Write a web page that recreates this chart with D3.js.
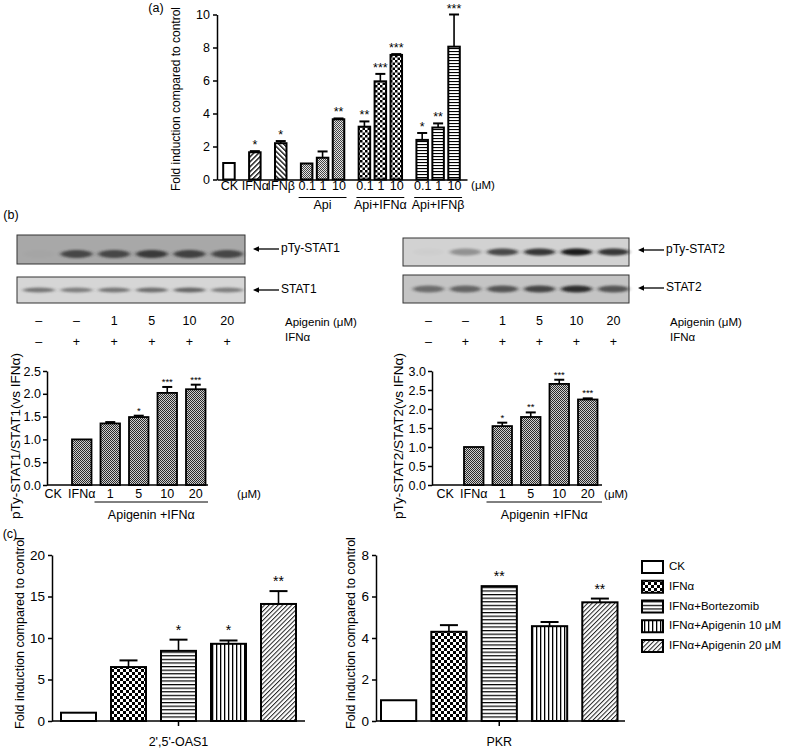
<!DOCTYPE html>
<html>
<head>
<meta charset="utf-8">
<script src="https://cdn.jsdelivr.net/npm/d3@7"></script>
<style>
    body { margin: 0; background: #fff; }
    svg  { display: block; }
</style>
</head>
<body>
<div id="chart"></div>
<script>
'use strict';

// ------------ DATA ---------------- //

// panel (a) : fold induction, 12 bars
const A_LABELS = ['CK', 'IFNα', 'IFNβ', '0.1', '1', '10', '0.1', '1', '10', '0.1', '1', '10'];
const A_GROUPS = ['CK', 'IFNα', 'IFNβ', 'Api', 'Api', 'Api', 'Api+IFNα', 'Api+IFNα', 'Api+IFNα', 'Api+IFNβ', 'Api+IFNβ', 'Api+IFNβ'];
const A_MEAN   = [1.0, 1.65, 2.2, 0.97, 1.32, 3.65, 3.2, 5.95, 7.55, 2.4, 3.15, 8.05];
const A_ERR    = [0, 0.07, 0.13, 0, 0.38, 0.05, 0.32, 0.45, 0.05, 0.42, 0.25, 1.95];
const A_SIG    = ['', '*', '*', '', '', '**', '**', '***', '***', '*', '**', '***'];
const A_TICKS  = [0, 2, 4, 6, 8, 10];

// panel (b) : western blot lanes
const LANE_API    = ['–', '–', '1', '5', '10', '20'];
const LANE_IFN    = ['–', '+', '+', '+', '+', '+'];
const BLOT_PSTAT1 = [0.02, 0.8, 0.8, 0.9, 0.85, 0.8];
const BLOT_STAT1  = [0.6, 0.55, 0.6, 0.65, 0.7, 0.55];
const BLOT_PSTAT2 = [0.02, 0.35, 0.75, 0.85, 1.0, 0.85];
const BLOT_STAT2  = [0.55, 0.6, 0.7, 0.8, 0.95, 0.7];

// panel (b) : quantification
const B_CATS    = ['CK', 'IFNα', '1', '5', '10', '20'];
const B1_MEAN   = [0, 1.0, 1.35, 1.49, 2.02, 2.1];
const B1_ERR    = [0, 0, 0.03, 0.03, 0.13, 0.1];
const B1_SIG    = ['', '', '', '*', '***', '***'];
const B1_TICKS  = [0, 0.5, 1.0, 1.5, 2.0, 2.5];
const B2_MEAN   = [0, 1.0, 1.55, 1.79, 2.66, 2.25];
const B2_ERR    = [0, 0, 0.09, 0.12, 0.11, 0.03];
const B2_SIG    = ['', '', '*', '**', '***', '***'];
const B2_TICKS  = [0, 0.5, 1.0, 1.5, 2.0, 2.5, 3.0];

// panel (c) : OAS1 and PKR
const C_SERIES  = ['CK', 'IFNα', 'IFNα+Bortezomib', 'IFNα+Apigenin 10 μM', 'IFNα+Apigenin 20 μM'];
const OAS1_MEAN = [1.0, 6.5, 8.45, 9.3, 14.1];
const OAS1_ERR  = [0, 0.8, 1.35, 0.4, 1.55];
const OAS1_SIG  = ['', '', '*', '*', '**'];
const OAS1_TICKS = [0, 5, 10, 15, 20];
const PKR_MEAN  = [1.0, 4.3, 6.5, 4.57, 5.72];
const PKR_ERR   = [0, 0.32, 0, 0.2, 0.18];
const PKR_SIG   = ['', '', '**', '', '**'];
const PKR_TICKS = [0, 2, 4, 6, 8];

// ------------ STYLE CONSTANTS ---------------- //

const FONT = '"Liberation Sans", Arial, Helvetica, sans-serif';
const A_FILLS = {
    'CK'       : '#fff',
    'IFNα'     : 'url(#hatchUp)',
    'IFNβ'     : 'url(#hatchDown)',
    'Api'      : 'url(#fineLight)',
    'Api+IFNα' : 'url(#checkSmall)',
    'Api+IFNβ' : 'url(#hlinesA)'
};
const C_FILLS = ['#fff', 'url(#checkBig)', 'url(#hlinesC)', 'url(#vlinesC)', 'url(#diagC)'];

// -------------  UTILS ------------- //

const svg = d3.select('#chart')
    .append('svg')
    .attr('width', 786)
    .attr('height', 749)
    .attr('font-family', FONT);

svg.append('rect').attr('width', 786).attr('height', 749).attr('fill', '#fff');

const defs = svg.append('defs');

const addPattern = (id, w, h, draw, transform) => {
    const p = defs.append('pattern')
        .attr('id', id)
        .attr('patternUnits', 'userSpaceOnUse')
        .attr('width', w)
        .attr('height', h);
    if(transform) p.attr('patternTransform', transform);
    draw(p);
};

const stripes = (w, lineW, bg, fg) => p => {
    p.append('rect').attr('width', w).attr('height', w).attr('fill', bg);
    p.append('rect').attr('width', lineW).attr('height', w).attr('fill', fg);
};

const checker = (cell, bg, fg) => p => {
    p.append('rect').attr('width', cell * 2).attr('height', cell * 2).attr('fill', bg);
    p.append('rect').attr('width', cell).attr('height', cell).attr('fill', fg);
    p.append('rect').attr('x', cell).attr('y', cell).attr('width', cell).attr('height', cell).attr('fill', fg);
};

addPattern('hatchUp', 3.5, 3.5, stripes(3.5, 1.3, '#fff', '#000'), 'rotate(45)');
addPattern('hatchDown', 3.5, 3.5, stripes(3.5, 1.3, '#fff', '#000'), 'rotate(-45)');
addPattern('fineLight', 2, 2, checker(1, '#e4e4e4', '#444'));
addPattern('fineDark', 2, 2, checker(1, '#cfcfcf', '#2a2a2a'));
addPattern('checkSmall', 5, 5, checker(2.5, '#fff', '#000'));
addPattern('checkBig', 6, 6, checker(3, '#fff', '#000'));
addPattern('hlinesA', 3, 3, stripes(3, 1.1, '#fff', '#000'), 'rotate(90)');
addPattern('hlinesC', 3.6, 3.6, stripes(3.6, 1.2, '#fff', '#000'), 'rotate(90)');
addPattern('vlinesC', 4, 4, stripes(4, 1.3, '#fff', '#000'));
addPattern('diagC', 3.2, 3.2, stripes(3.2, 1.0, '#fff', '#222'), 'rotate(45)');

const blur = defs.append('filter').attr('id', 'blur').attr('x', '-30%').attr('y', '-100%').attr('width', '160%').attr('height', '300%');
blur.append('feGaussianBlur').attr('stdDeviation', '2 1.3');

const styleAxis = (g, size) => {
    g.attr('font-family', FONT).attr('font-size', size);
    g.selectAll('path, line').attr('stroke', '#000').attr('stroke-width', 1.5);
    g.selectAll('text').attr('fill', '#000');
    return g;
};

const addText = (x, y, txt, size, opts = {}) => {
    const t = svg.append('text')
        .attr('x', x)
        .attr('y', y)
        .attr('font-size', size)
        .attr('text-anchor', opts.anchor || 'middle')
        .attr('dominant-baseline', opts.baseline || 'middle')
        .text(txt);
    if(opts.rotate) t.attr('transform', `rotate(-90, ${x}, ${y})`);
    return t;
};

const hline = (x1, x2, y, w = 1.2) => svg.append('line')
    .attr('x1', x1).attr('x2', x2).attr('y1', y).attr('y2', y)
    .attr('stroke', '#000').attr('stroke-width', w);

// bars + error bars + stars
const drawBars = (cfg) => {
    const {means, errs, sigs, cx, bw, y, fills, strokeW, capW, starSize, starGap} = cfg;
    const rows = means.map((m, i) => ({i, m, e: errs[i], s: sigs[i], fill: fills[i]}));
    const g    = svg.append('g');

    g.selectAll('rect')
        .data(rows.filter(d => d.m > 0))
        .enter()
            .append('rect')
            .attr('x', d => cx(d.i) - bw / 2)
            .attr('y', d => y(d.m))
            .attr('width', bw)
            .attr('height', d => y(0) - y(d.m))
            .attr('fill', d => d.fill)
            .attr('stroke', '#000')
            .attr('stroke-width', strokeW);

    const withErr = rows.filter(d => d.e > 0);
    g.selectAll('.err')
        .data(withErr)
        .enter()
            .append('line')
            .attr('class', 'err')
            .attr('x1', d => cx(d.i)).attr('x2', d => cx(d.i))
            .attr('y1', d => y(d.m)).attr('y2', d => y(d.m + d.e))
            .attr('stroke', '#000').attr('stroke-width', 1.6);

    g.selectAll('.cap')
        .data(withErr)
        .enter()
            .append('line')
            .attr('class', 'cap')
            .attr('x1', d => cx(d.i) - capW / 2).attr('x2', d => cx(d.i) + capW / 2)
            .attr('y1', d => y(d.m + d.e)).attr('y2', d => y(d.m + d.e))
            .attr('stroke', '#000').attr('stroke-width', 2);

    g.selectAll('.star')
        .data(rows.filter(d => d.s))
        .enter()
            .append('text')
            .attr('class', 'star')
            .attr('x', d => cx(d.i))
            .attr('y', d => y(d.m + d.e) - starGap)
            .attr('text-anchor', 'middle')
            .attr('font-size', starSize)
            .text(d => d.s);
};

// ---------------  PANEL (a) ------------- //

const drawPanelA = () => {
    const groupGap = 26 / 16;
    const slots    = A_GROUPS.reduce((acc, grp, i) => {
        acc.push(i === 0 ? 0 : acc[i - 1] + (grp === A_GROUPS[i - 1] ? 1 : groupGap));
        return acc;
    }, []);
    const x = d3.scaleLinear().domain([-0.75, slots[slots.length - 1] + 0.8125]).range([217, 467]);
    const y = d3.scaleLinear().domain([0, 10]).range([179.5, 14.5]);

    styleAxis(svg.append('g')
        .attr('transform', 'translate(217,0)')
        .call(d3.axisLeft(y).tickValues(A_TICKS).tickSize(4).tickSizeOuter(0).tickPadding(3)), 12.5);

    styleAxis(svg.append('g')
        .attr('transform', 'translate(0,179.5)')
        .call(d3.axisBottom(x).tickValues(slots).tickFormat((d, i) => A_LABELS[i]).tickSize(0).tickSizeOuter(0).tickPadding(2)), 12.5);

    drawBars({
        means: A_MEAN, errs: A_ERR, sigs: A_SIG,
        cx: i => x(slots[i]), bw: 11.5, y,
        fills: A_GROUPS.map(g => A_FILLS[g]),
        strokeW: 2, capW: 10, starSize: 12.5, starGap: 2
    });

    // dose groups: underline + group name
    Array.from(new Set(A_GROUPS))
        .filter(g => A_GROUPS.filter(v => v === g).length > 1)
        .forEach(g => {
            const idx = A_GROUPS.map((v, i) => v === g ? i : -1).filter(i => i >= 0);
            const x1  = x(slots[idx[0]]) - 8;
            const x2  = x(slots[idx[idx.length - 1]]) + 8;
            hline(x1, x2, 197.5, 1.2);
            addText((x1 + x2) / 2, 206, g, 12.5);
        });

    addText(483, 186, '(μM)', 11.5);
    addText(177, 99, 'Fold induction compared to control', 12, {rotate: true});
    addText(156, 9, '(a)', 12.5);
};

// ---------------  PANEL (b) BLOTS ------------- //

const drawBlot = (x0, x1, y0, y1, bg, color, bandY, bandH, lane, values) => {
    const g = svg.append('g');
    g.append('rect')
        .attr('x', x0).attr('y', y0).attr('width', x1 - x0).attr('height', y1 - y0)
        .attr('fill', bg).attr('stroke', '#333').attr('stroke-width', 1);
    g.selectAll('ellipse')
        .data(values)
        .enter()
            .append('ellipse')
            .attr('cx', (d, i) => lane(i) + lane.bandwidth() / 2)
            .attr('cy', bandY)
            .attr('rx', lane.bandwidth() * 0.42)
            .attr('ry', bandH / 2)
            .attr('fill', color)
            .attr('opacity', d => d)
            .attr('filter', 'url(#blur)');
};

const drawBlotLabels = (lane, textX, arrowX, rows) => {
    rows.forEach(([y, txt]) => {
        svg.append('line')
            .attr('x1', arrowX + 4).attr('x2', arrowX + 26).attr('y1', y).attr('y2', y)
            .attr('stroke', '#000').attr('stroke-width', 1.3);
        svg.append('path')
            .attr('d', `M${arrowX},${y} l6,-2.8 l0,5.6 z`)
            .attr('fill', '#000');
        addText(textX, y, txt, 12, {anchor: 'start'});
    });
    const cx = i => lane(i) + lane.bandwidth() / 2;
    LANE_API.forEach((t, i) => addText(cx(i), 322, t, 12.5));
    LANE_IFN.forEach((t, i) => addText(cx(i), 343, t, 12.5));
    addText(textX + 4, 323, 'Apigenin (μM)', 11.5, {anchor: 'start'});
    addText(textX + 4, 338, 'IFNα', 11.5, {anchor: 'start'});
};

const drawPanelBBlots = () => {
    const laneL = d3.scaleBand().domain(d3.range(LANE_API.length)).range([20, 246]);
    drawBlot(17, 245, 235, 264, '#a8a8a8', '#2e2e2e', 254, 8, laneL, BLOT_PSTAT1);
    drawBlot(17, 245, 277, 303, '#d6d6d6', '#3a3a3a', 290, 5, laneL, BLOT_STAT1);
    drawBlotLabels(laneL, 281, 253, [[249, 'pTy-STAT1'], [290, 'STAT1']]);

    const laneR = d3.scaleBand().domain(d3.range(LANE_API.length)).range([410, 632]);
    drawBlot(403, 629, 238, 266, '#d2d2d2', '#1e1e1e', 252, 7, laneR, BLOT_PSTAT2);
    drawBlot(403, 629, 275, 303, '#c4c4c4', '#262626', 289, 7, laneR, BLOT_STAT2);
    drawBlotLabels(laneR, 666, 638, [[250, 'pTy-STAT2'], [288, 'STAT2']]);

    addText(11, 216, '(b)', 12.5);
};

// ---------------  PANEL (b) BARS ------------- //

const drawQuant = (cfg) => {
    const {x0, xStart, xEnd, axisEnd, means, errs, sigs, ticks, top, title, titleX, umX} = cfg;
    const x = d3.scaleBand().domain(B_CATS).range([xStart, xEnd]).paddingInner(0.316);
    const y = d3.scaleLinear().domain([0, ticks[ticks.length - 1]]).range([485, top]);

    styleAxis(svg.append('g')
        .attr('transform', `translate(${x0},0)`)
        .call(d3.axisLeft(y).tickValues(ticks).tickFormat(d3.format('.1f')).tickSize(4).tickSizeOuter(0).tickPadding(2)), 12.5);

    const xa = styleAxis(svg.append('g')
        .attr('transform', 'translate(0,485)')
        .call(d3.axisBottom(x).tickSize(0).tickPadding(4)), 12.5);
    xa.select('.domain').remove();
    hline(x0, axisEnd, 485, 1.5);

    drawBars({
        means, errs, sigs,
        cx: i => x(B_CATS[i]) + x.bandwidth() / 2, bw: x.bandwidth(), y,
        fills: B_CATS.map(() => 'url(#fineDark)'),
        strokeW: 1.8, capW: 10, starSize: 9.5, starGap: 2
    });

    const ux1 = x(B_CATS[2]) - 6;
    hline(ux1, axisEnd, 502, 1);
    addText((ux1 + axisEnd) / 2, 516, 'Apigenin +IFNα', 12.5);
    addText(umX, 495, '(μM)', 11.5);
    addText(titleX, 436, title, 13.5, {rotate: true});
};

const drawPanelBQuant = () => {
    drawQuant({
        x0: 47, xStart: 43.5, xEnd: 205.5, axisEnd: 208,
        means: B1_MEAN, errs: B1_ERR, sigs: B1_SIG, ticks: B1_TICKS, top: 371,
        title: 'pTy-STAT1/STAT1(vs IFNα)', titleX: 16, umX: 249
    });
    drawQuant({
        x0: 432, xStart: 435.5, xEnd: 597.5, axisEnd: 602,
        means: B2_MEAN, errs: B2_ERR, sigs: B2_SIG, ticks: B2_TICKS, top: 371,
        title: 'pTy-STAT2/STAT2(vs IFNα)', titleX: 399, umX: 616
    });
};

// ---------------  PANEL (c) ------------- //

const drawGene = (cfg) => {
    const {x0, xStart, xEnd, axisEnd, means, errs, sigs, ticks, gene, titleX} = cfg;
    const x = d3.scaleBand().domain(C_SERIES).range([xStart, xEnd]).paddingInner(0.3);
    const y = d3.scaleLinear().domain([0, ticks[ticks.length - 1]]).range([721, 555]);

    styleAxis(svg.append('g')
        .attr('transform', `translate(${x0},0)`)
        .call(d3.axisLeft(y).tickValues(ticks).tickSize(4).tickSizeOuter(0).tickPadding(3)), 13.5);
    hline(x0, axisEnd, 721, 1.5);

    const mid = x(C_SERIES[2]) + x.bandwidth() / 2;
    svg.append('line')
        .attr('x1', mid).attr('x2', mid).attr('y1', 721).attr('y2', 726)
        .attr('stroke', '#000').attr('stroke-width', 1.5);

    drawBars({
        means, errs, sigs,
        cx: i => x(C_SERIES[i]) + x.bandwidth() / 2, bw: x.bandwidth(), y,
        fills: C_FILLS,
        strokeW: 2, capW: 18, starSize: 14, starGap: 5
    });

    addText(mid, 743, gene, 12.5);
    addText(titleX, 633, 'Fold induction compared to control', 12.5, {rotate: true});
};

const drawLegend = () => {
    const ly = d3.scalePoint().domain(C_SERIES).range([567, 646]);
    const g  = svg.append('g');
    g.selectAll('rect')
        .data(C_SERIES)
        .enter()
            .append('rect')
            .attr('x', 642).attr('y', d => ly(d) - 6)
            .attr('width', 21).attr('height', 12)
            .attr('fill', (d, i) => C_FILLS[i])
            .attr('stroke', '#000').attr('stroke-width', 2);
    C_SERIES.forEach(s => addText(669, ly(s), s, 11.5, {anchor: 'start'}));
};

const drawPanelC = () => {
    drawGene({
        x0: 52, xStart: 61, xEnd: 296, axisEnd: 305,
        means: OAS1_MEAN, errs: OAS1_ERR, sigs: OAS1_SIG, ticks: OAS1_TICKS,
        gene: "2',5'-OAS1", titleX: 21
    });
    drawGene({
        x0: 376, xStart: 381, xEnd: 617.5, axisEnd: 625,
        means: PKR_MEAN, errs: PKR_ERR, sigs: PKR_SIG, ticks: PKR_TICKS,
        gene: 'PKR', titleX: 352
    });
    drawLegend();
    addText(10, 535, '(c)', 12.5);
};

// --------------------   MAIN   ------------------- //

drawPanelA();
drawPanelBBlots();
drawPanelBQuant();
drawPanelC();
</script>
</body>
</html>
